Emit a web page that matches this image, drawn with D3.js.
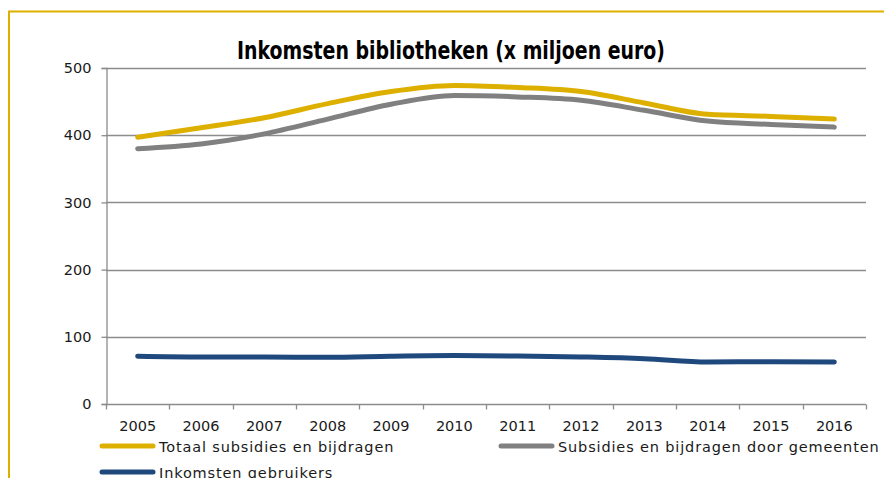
<!DOCTYPE html>
<html>
<head>
<meta charset="utf-8">
<script src="https://cdn.jsdelivr.net/npm/d3@7"></script>
<style>
  html, body { margin: 0; padding: 0; background: #fff; }
  svg { display: block; }
</style>
</head>
<body>
<svg id="chart" width="884" height="478"></svg>
<script>
const years = ["2005","2006","2007","2008","2009","2010","2011","2012","2013","2014","2015","2016"];
const totaal = [397, 411, 426, 447, 465, 474, 471, 465, 448, 431, 428, 424];
const gemeenten = [380, 387, 402, 424, 446, 459, 457, 452, 437, 421, 416, 412];
const gebruikers = [71, 70, 70, 69.5, 71, 72, 71.5, 70, 67.5, 62.5, 63, 62.5];
const yTicks = [0, 100, 200, 300, 400, 500];
const seriesNames = ["Totaal subsidies en bijdragen", "Subsidies en bijdragen door gemeenten", "Inkomsten gebruikers"];
const seriesColors = ["#DDB000", "#808080", "#1F497D"];
const title = "Inkomsten bibliotheken (x miljoen euro)";

(function () {
const series = [totaal, gemeenten, gebruikers];
const svg = d3.select("#chart");
const W = 884, H = 478;
const pLeft = 106, pRight = 866, pTop = 68, pBottom = 404;
const textFont = "Verdana, 'DejaVu Sans', sans-serif";

// outer frame
svg.append("line").attr("x1", 8).attr("x2", W).attr("y1", 11.5).attr("y2", 11.5)
  .attr("stroke", "#DDB000").attr("stroke-width", 2);
svg.append("line").attr("x1", 9).attr("x2", 9).attr("y1", 11).attr("y2", H)
  .attr("stroke", "#DDB000").attr("stroke-width", 2);

const x = d3.scaleBand().domain(years).range([pLeft, pRight]);
const y = d3.scaleLinear().domain([0, 500]).range([pBottom, pTop]);

// gridlines
svg.append("g").selectAll("line").data(yTicks.filter(d => d > 0)).join("line")
  .attr("x1", pLeft).attr("x2", pRight)
  .attr("y1", d => Math.round(y(d)) + 0.5).attr("y2", d => Math.round(y(d)) + 0.5)
  .attr("stroke", "#8C8C8C").attr("stroke-width", 1.3);

// y axis
const yAxis = svg.append("g").attr("transform", `translate(${pLeft + 0.5},0)`)
  .call(d3.axisLeft(y).tickValues(yTicks).tickSize(5).tickPadding(10));
yAxis.select(".domain").attr("stroke", "#8C8C8C").attr("stroke-width", 1.3);
yAxis.selectAll(".tick line").attr("stroke", "#8C8C8C").attr("stroke-width", 1.3);
yAxis.selectAll(".tick text").attr("font-family", textFont).attr("font-size", 14.5).attr("fill", "#1a1a1a");

// x axis with boundary ticks
const xg = svg.append("g").attr("transform", `translate(0,${Math.round(pBottom) + 0.5})`);
xg.append("line").attr("x1", pLeft).attr("x2", pRight).attr("stroke", "#8C8C8C").attr("stroke-width", 1.3);
const boundaries = years.map(d => x(d)).concat([x(years[years.length - 1]) + x.bandwidth()]);
xg.selectAll("line.tk").data(boundaries).join("line").attr("class", "tk")
  .attr("x1", d => Math.round(d) + 0.5).attr("x2", d => Math.round(d) + 0.5)
  .attr("y1", 0).attr("y2", 5).attr("stroke", "#8C8C8C").attr("stroke-width", 1.3);
xg.selectAll("text").data(years).join("text")
  .attr("x", d => x(d) + x.bandwidth() / 2).attr("y", 26)
  .attr("text-anchor", "middle")
  .attr("font-family", textFont).attr("font-size", 14.5).attr("fill", "#1a1a1a")
  .text(d => d);

// lines
const line = d3.line()
  .x((d, i) => x(years[i]) + x.bandwidth() / 2)
  .y(d => y(d))
  .curve(d3.curveMonotoneX);
svg.append("g").selectAll("path").data(series).join("path")
  .attr("d", d => line(d))
  .attr("fill", "none")
  .attr("stroke", (d, i) => seriesColors[i])
  .attr("stroke-width", 5)
  .attr("stroke-linecap", "round")
  .attr("stroke-linejoin", "round");

// title
svg.append("text").attr("x", 451).attr("y", 59)
  .attr("text-anchor", "middle")
  .attr("font-family", "'Liberation Sans Narrow', 'DejaVu Sans Condensed', 'Arial Narrow', sans-serif")
  .attr("font-weight", "bold").attr("font-size", 24)
  .attr("textLength", 428).attr("lengthAdjust", "spacingAndGlyphs")
  .attr("fill", "#000")
  .text(title);

// legend
const legendPos = [[100, 446], [499, 446], [100, 472]];
const lg = svg.append("g").selectAll("g").data(seriesNames).join("g")
  .attr("transform", (d, i) => `translate(${legendPos[i][0]},${legendPos[i][1]})`);
lg.append("line").attr("x1", 2).attr("x2", 53).attr("y1", 0).attr("y2", 0)
  .attr("stroke", (d, i) => seriesColors[i]).attr("stroke-width", 5).attr("stroke-linecap", "round");
lg.append("text").attr("x", 59).attr("y", 5.5)
  .attr("font-family", textFont).attr("font-size", 14.5).attr("fill", "#1a1a1a")
  .attr("letter-spacing", 0.85)
  .text(d => d);
})();
</script>
</body>
</html>
